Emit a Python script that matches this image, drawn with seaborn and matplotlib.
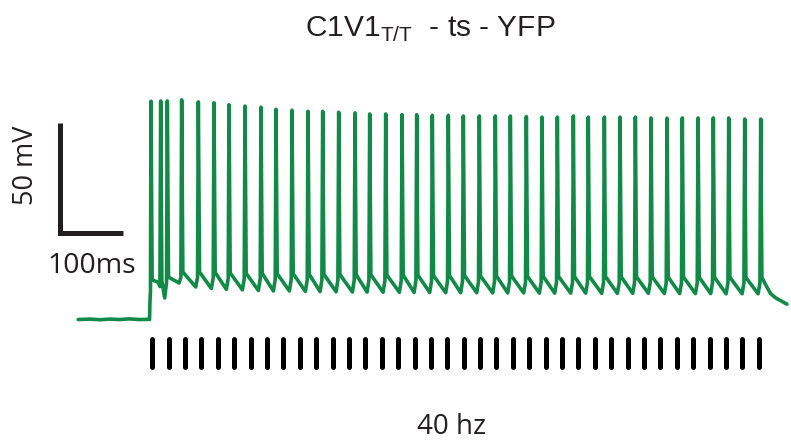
import numpy as np
import pandas as pd
import matplotlib
matplotlib.use("Agg")
import matplotlib.pyplot as plt
import seaborn as sns

# ---- recorded spike train (time in ms from first light pulse, voltage in mV) ----
spike_times_ms = [-2.0, 12.8, 22.9, 44.8, 70.2, 94.1, 117.0, 141.4, 165.8, 188.7,
                  213.1, 237.5, 259.9, 284.3, 309.2, 331.6, 356.0, 380.9, 403.3, 427.1,
                  451.5, 474.4, 498.8, 523.2, 546.1, 570.5, 594.4, 617.8, 642.2, 665.0,
                  689.5, 713.4, 736.8, 760.7, 785.1, 808.4, 832.4, 855.7, 879.2, 903.6,
                  928.0]
spike_peaks_mv = [29.2, 29.3, 29.3, 29.8, 28.9, 28.5, 27.6, 27.0, 26.5, 25.5,
                  25.1, 24.6, 24.6, 24.2, 23.9, 23.4, 23.4, 23.1, 23.1, 22.8,
                  22.8, 22.5, 22.5, 22.5, 22.5, 22.2, 22.0, 22.0, 22.5, 22.0,
                  22.0, 22.0, 22.0, 21.6, 21.5, 21.6, 21.6, 21.6, 21.6, 21.1,
                  21.1]
# depolarised level right after each spike
after_spike_mv = [-52.0, -52.5, -50.7, -48.4, -48.4, -48.6, -48.8, -49.0, -49.0, -49.2,
                  -49.2, -49.4, -49.4, -49.5, -49.6, -49.6, -49.8, -49.8, -49.8, -50.0,
                  -50.0, -50.0, -50.2, -50.2, -50.2, -50.4, -50.4, -50.4, -50.5, -50.5,
                  -50.5, -50.6, -50.6, -50.6, -50.7, -50.7, -50.8, -50.8, -50.8, -50.9,
                  -50.9]
# lowest level reached between consecutive spikes
interspike_trough_mv = [-53.0, -60.2, -53.4, -55.2, -55.9, -56.3, -56.5, -56.8, -57.0, -57.0,
                        -57.2, -57.3, -57.4, -57.5, -57.5, -57.6, -57.6, -57.7, -57.7, -57.8,
                        -57.8, -57.8, -57.9, -57.9, -57.9, -58.0, -58.0, -58.0, -58.0, -58.1,
                        -58.1, -58.1, -58.1, -58.2, -58.2, -58.2, -58.2, -58.3, -58.3, -58.3]

# resting membrane before the light train
baseline_t = [-113, -95, -80, -65, -50, -35, -20, -5, -4.2]
baseline_v = [-70.0, -69.8, -70.1, -69.8, -70.0, -69.7, -70.0, -69.9, -70.0]
# light-evoked step at train onset
onset_t = [-3.6, -2.8]
onset_v = [-62.0, -57.0]
# repolarisation after the last spike
tail_t = [937.0, 943.0, 951.0, 968.0]
tail_v = [-55.0, -58.2, -60.2, -63.0]

# 40 Hz light pulses (ms)
pulse_times_ms = [0, 25, 50, 75, 100, 125, 150, 175, 200, 225,
                  250, 275, 300, 325, 350, 375, 400, 425, 450, 475,
                  500, 525, 550, 575, 600, 625, 650, 675, 700, 725,
                  750, 775, 800, 825, 850, 875, 900, 925]

# scale bars
scale_ms = 100
scale_mv = 50

# ---- assemble the membrane trace ----
t = list(baseline_t) + list(onset_t)
v = list(baseline_v) + list(onset_v)
n = len(spike_times_ms)
for i in range(n):
    ts = spike_times_ms[i]
    if i > 0:
        t += [ts - 1.2]
        v += [after_spike_mv[i] - 2.5]
    t += [ts, ts + 1.8]
    v += [spike_peaks_mv[i], after_spike_mv[i]]
    if i < n - 1:
        t += [spike_times_ms[i + 1] - 4.0]
        v += [interspike_trough_mv[i]]
t += tail_t
v += tail_v
trace = pd.DataFrame({"time_ms": t, "vm_mv": v})

sns.set_theme(style="white")
plt.rcParams["font.family"] = ["Liberation Sans", "DejaVu Sans"]

W, H = 791, 443
fig = plt.figure(figsize=(W / 100, H / 100), dpi=100)
ax = fig.add_axes([0, 0, 1, 1])

green = "#128a47"
sns.lineplot(data=trace, x="time_ms", y="vm_mv", sort=False, estimator=None,
             color=green, linewidth=2.6, ax=ax)

# light pulses
pulses = ax.vlines(pulse_times_ms, -91.5, -79.0, color="black", linewidth=3.6)
pulses.set_capstyle("round")

# L-shaped scale bar
bar_x0 = -140.8
bar_y0 = -30.7
ax.plot([bar_x0, bar_x0, bar_x0 + scale_ms - 4.4],
        [bar_y0 + scale_mv, bar_y0, bar_y0],
        color="#231f20", linewidth=3.6, solid_joinstyle="miter", solid_capstyle="butt")

ax.set_xlim(-232.3, 974.2)
ax.set_ylim(-126.1, 75.2)
ax.set_axis_off()

label_font = ["Open Sans", "DejaVu Sans"]
fig.text(92 / W, 1 - 273 / H, f"{scale_ms}ms", ha="center", va="baseline",
         fontsize=20.5, family=label_font, color="#231f20")
fig.text(26 / W, 1 - 165 / H, f"{scale_mv} mV", ha="center", va="center",
         rotation=90, fontsize=19.5, family=label_font, color="#231f20")
fig.text(452 / W, 1 - 434 / H, "40 hz", ha="center", va="baseline",
         fontsize=20, family=label_font, color="#231f20")

fig.text(430 / W, 1 - 37 / H, r"C1V1$_\mathregular{T/T}$  - ts - YFP",
         ha="center", va="baseline", fontsize=21.5, color="#231f20")

fig.savefig("out.png", dpi=100)
